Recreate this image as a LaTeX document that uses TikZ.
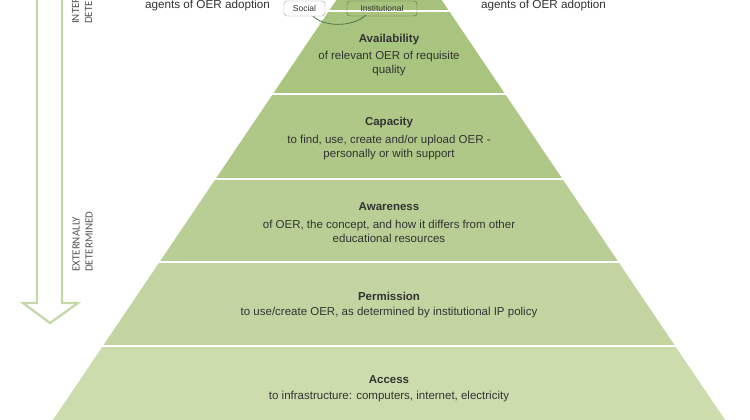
\documentclass[tikz,border=0pt]{standalone}
\usepackage{fontspec}
\setmainfont{Liberation Sans}
\newfontfamily\calib{Carlito}
\definecolor{txt}{HTML}{333333}
\definecolor{vtxt}{HTML}{555555}
\definecolor{arr}{HTML}{C5D8A9}
\definecolor{gA}{HTML}{A7C27C}
\definecolor{gB}{HTML}{A9C47F}
\definecolor{gC}{HTML}{AFC887}
\definecolor{gD}{HTML}{B8CE94}
\definecolor{gE}{HTML}{C2D5A0}
\definecolor{gF}{HTML}{CDDCAD}
\newcommand\pyrband[3]{\begin{scope}\clip (0,#1) rectangle (750,#2);
  \fill[#3] (389,-78) -- (47.5,428) -- (730.5,428) -- cycle;\end{scope}}
\tikzset{
  title/.style={font=\bfseries\fontsize{11.5}{14}\selectfont, text=txt, inner sep=0pt},
  body/.style={font=\fontsize{11.5}{14}\selectfont, text=txt, align=center, inner sep=0pt},
  top/.style={font=\fontsize{11.7}{14}\selectfont, text=txt, inner sep=0pt},
  vlab/.style={font=\calib\fontsize{11}{13}\selectfont, text=vtxt, rotate=90, anchor=west, align=left, inner sep=0pt},
  smallbox/.style={font=\fontsize{8.5}{10}\selectfont, text=txt, rounded corners=3pt, minimum height=15pt, inner sep=0pt},
  arrowline/.style={draw=arr, line width=2.3pt, line join=miter}
}
\begin{document}
\begin{tikzpicture}[x=1pt,y=-1pt]
\useasboundingbox (0,0) rectangle (750,420);
\clip (0,0) rectangle (750,420);
% pyramid layers
\pyrband{-10}{9.5}{gA}
\pyrband{12.5}{93}{gB}
\pyrband{96}{177}{gC}
\pyrband{180}{260.5}{gD}
\pyrband{263.5}{344}{gE}
\pyrband{347}{430}{gF}
% arc of the circle
\draw[draw=black!55!green!40!gray, line width=0.8pt] (312,15) .. controls (322,27) and (352,28) .. (366,15);
% small boxes
\node[smallbox, draw=gray!80, fill=white, minimum width=41pt] (soc) at (304.5,8.5) {Social};
\node[smallbox, draw=black!45!gB, minimum width=70pt] (inst) at (382,8.5) {Institutional};
% top texts
\node[top] (agl) at (207.5,5.5) {agents of OER adoption};
\node[top] (agr) at (543.5,5.5) {agents of OER adoption};
% layer texts
\node[title] (avt) at (389,40) {Availability};
\node[body] (avb) at (389,64) {of relevant OER of requisite\\quality};
\node[title] (cat) at (389,123) {Capacity};
\node[body] (cab) at (389,148) {to find, use, create and/or upload OER -\\personally or with support};
\node[title] (awt) at (389,207) {Awareness};
\node[body] (awb) at (389,231) {of OER, the concept, and how it differs from other\\educational resources};
\node[title] (pet) at (389,296) {Permission};
\node[body] (peb) at (389,313) {to use/create OER, as determined by institutional IP policy};
\node[title] (act) at (389,380) {Access};
\node[body] (acb) at (389,397) {to infrastructure: computers, internet, electricity};
% arrow
\draw[arrowline] (37,-10) -- (37,303) -- (23,303) -- (50,323) -- (78,303) -- (62,303) -- (62,-10);
% vertical labels
\node[vlab] (intl) at (82,24) {INTERNALLY\\DETERMINED};
\node[vlab] (extl) at (82.5,272) {EXTERNALLY\\DETERMINED};
\end{tikzpicture}
\end{document}
